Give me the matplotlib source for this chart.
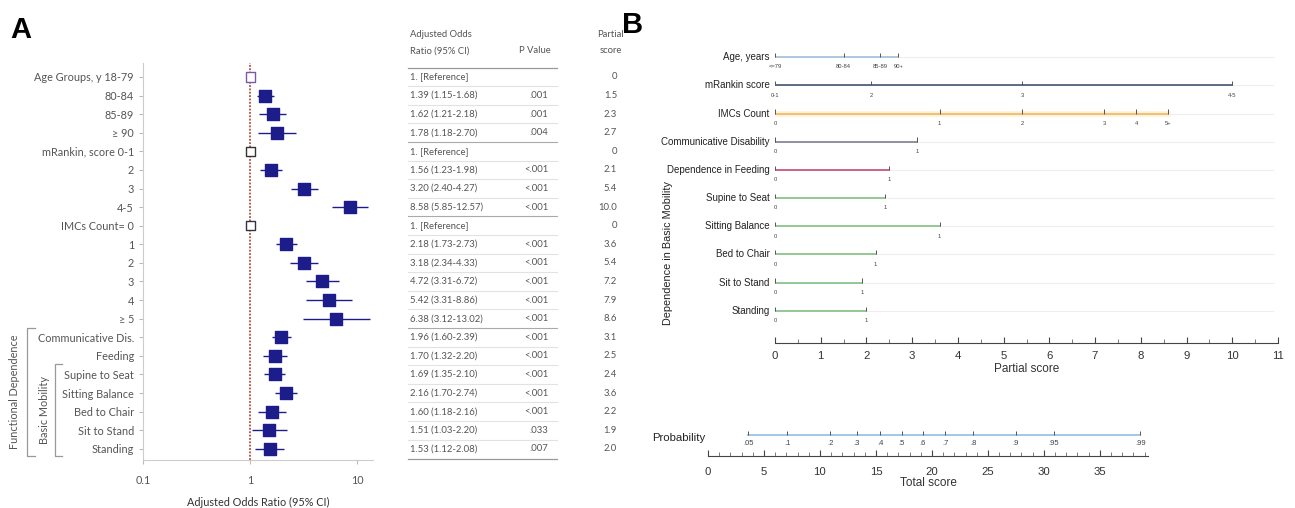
import numpy as np
import matplotlib
matplotlib.use("Agg")
import matplotlib.pyplot as plt
from matplotlib.ticker import FixedLocator, MultipleLocator, NullFormatter

# ---- panel A data ----
row_labels = ["Age Groups, y 18-79", "80-84", "85-89", "\u2265 90",
              "mRankin, score 0-1", "2", "3", "4-5",
              "IMCs Count= 0", "1", "2", "3", "4", "\u2265 5",
              "Communicative Dis.", "Feeding", "Supine to Seat", "Sitting Balance",
              "Bed to Chair", "Sit to Stand", "Standing"]
odds = [1, 1.39, 1.62, 1.78, 1, 1.56, 3.20, 8.58, 1, 2.18, 3.18, 4.72, 5.42, 6.38,
        1.96, 1.70, 1.69, 2.16, 1.60, 1.51, 1.53]
ci_low = [np.nan, 1.15, 1.21, 1.18, np.nan, 1.23, 2.40, 5.85, np.nan, 1.73, 2.34, 3.31,
          3.31, 3.12, 1.60, 1.32, 1.35, 1.70, 1.18, 1.03, 1.12]
ci_high = [np.nan, 1.68, 2.18, 2.70, np.nan, 1.98, 4.27, 12.57, np.nan, 2.73, 4.33, 6.72,
           8.86, 13.02, 2.39, 2.20, 2.10, 2.74, 2.16, 2.20, 2.08]
or_text = ["1. [Reference]", "1.39 (1.15-1.68)", "1.62 (1.21-2.18)", "1.78 (1.18-2.70)",
           "1. [Reference]", "1.56 (1.23-1.98)", "3.20 (2.40-4.27)", "8.58 (5.85-12.57)",
           "1. [Reference]", "2.18 (1.73-2.73)", "3.18 (2.34-4.33)", "4.72 (3.31-6.72)",
           "5.42 (3.31-8.86)", "6.38 (3.12-13.02)", "1.96 (1.60-2.39)", "1.70 (1.32-2.20)",
           "1.69 (1.35-2.10)", "2.16 (1.70-2.74)", "1.60 (1.18-2.16)", "1.51 (1.03-2.20)",
           "1.53 (1.12-2.08)"]
p_text = ["", ".001", ".001", ".004", "", "<.001", "<.001", "<.001", "", "<.001", "<.001",
          "<.001", "<.001", "<.001", "<.001", "<.001", "<.001", "<.001", "<.001", ".033", ".007"]
partial_text = ["0", "1.5", "2.3", "2.7", "0", "2.1", "5.4", "10.0", "0", "3.6", "5.4", "7.2",
                "7.9", "8.6", "3.1", "2.5", "2.4", "3.6", "2.2", "1.9", "2.0"]
group_ends = [3, 7, 13]

# ---- panel B data ----
nomo_names = ["Age, years", "mRankin score", "IMCs Count", "Communicative Disability",
              "Dependence in Feeding", "Supine to Seat", "Sitting Balance", "Bed to Chair",
              "Sit to Stand", "Standing"]
nomo_points = [[0, 1.5, 2.3, 2.7], [0, 2.1, 5.4, 10.0], [0, 3.6, 5.4, 7.2, 7.9, 8.6],
               [0, 3.1], [0, 2.5], [0, 2.4], [0, 3.6], [0, 2.2], [0, 1.9], [0, 2.0]]
nomo_ticks = [["<=79", "80-84", "85-89", "90+"], ["0-1", "2", "3", "4-5"],
              ["0", "1", "2", "3", "4", "5+"], ["0", "1"], ["0", "1"], ["0", "1"],
              ["0", "1"], ["0", "1"], ["0", "1"], ["0", "1"]]
nomo_colors = ["#a9c4dd", "#52607a", "#f2bc6c", "#8e8699", "#c8587a",
               "#8cc48c", "#8cc48c", "#8cc48c", "#8cc48c", "#8cc48c"]
prob_labels = [".05", ".1", ".2", ".3", ".4", ".5", ".6", ".7", ".8", ".9", ".95", ".99"]
prob_score = [3.6, 7.1, 10.9, 13.3, 15.4, 17.3, 19.2, 21.2, 23.7, 27.5, 30.9, 38.6]

W, H = 1295, 508
fig = plt.figure(figsize=(W / 100, H / 100), dpi=100)


def box(l, t, r, b):
    return [l / W, 1 - b / H, (r - l) / W, (b - t) / H]


navy = "#1c1c8a"
gray = "#555555"
fontA = ["Lato", "DejaVu Sans"]
fontB = ["Liberation Sans", "DejaVu Sans"]

fig.text(10 / W, 1 - 30 / H, "A", fontsize=21, fontweight="bold", family=fontB, va="center")
fig.text(622 / W, 1 - 25 / H, "B", fontsize=21, fontweight="bold", family=fontB, va="center")

# ---- forest plot ----
ax = fig.add_axes(box(143, 63, 373, 460))
y = np.arange(len(row_labels))
odds_a = np.array(odds)
lo = np.array(ci_low)
hi = np.array(ci_high)
ref = np.isnan(lo)
ax.set_xscale("log")
ax.set_xlim(0.1, 14)
ax.set_ylim(20.6, -0.75)
ax.axvline(1, color="#a8301e", ls=(0, (1.2, 1.0)), lw=1.1, zorder=1)
ax.hlines(y[~ref], lo[~ref], hi[~ref], color=navy, lw=1.0, zorder=2)
ax.scatter(odds_a[~ref], y[~ref], marker="s", s=70, color=navy, zorder=3)
ax.scatter(odds_a[ref], y[ref], marker="s", s=45, facecolor="white",
           edgecolor=["#7a5aa8", "#333333", "#333344"], lw=1.0, zorder=3)
ax.set_yticks(y)
ax.set_yticklabels(row_labels, family=fontA)
ax.xaxis.set_major_locator(FixedLocator([0.1, 1, 10]))
ax.xaxis.set_minor_formatter(NullFormatter())
ax.xaxis.set_minor_locator(FixedLocator([]))
ax.set_xticklabels(["0.1", "1", "10"], family=fontA)
ax.tick_params(axis="both", length=3, color="#bbbbbb", labelsize=7.8, labelcolor=gray)
ax.tick_params(axis="x", pad=8)
for s in ["top", "right"]:
    ax.spines[s].set_visible(False)
for s in ["left", "bottom"]:
    ax.spines[s].set_color("#cccccc")
ax.set_xlabel("Adjusted Odds Ratio (95% CI)", fontsize=7.8, color="#333333",
              family=fontA, labelpad=8)

tr = ax.get_yaxis_transform()
bk = dict(color="#999999", lw=0.9, transform=tr, clip_on=False)
ax.plot([-0.47, -0.504, -0.504, -0.47], [13.5, 13.5, 20.4, 20.4], **bk)
ax.plot([-0.352, -0.383, -0.383, -0.352], [15.45, 15.45, 20.4, 20.4], **bk)
ax.text(-0.557, 16.95, "Functional Dependence", rotation=90, transform=tr, ha="center",
        va="center", fontsize=7.8, color=gray, family=fontA)
ax.text(-0.428, 17.9, "Basic Mobility", rotation=90, transform=tr, ha="center",
        va="center", fontsize=7.8, color=gray, family=fontA)

# ---- table ----
tb = fig.add_axes(box(400, 63, 625, 460))
tb.set_xlim(0, 1)
tb.set_ylim(20.6, -0.75)
tb.axis("off")
txt = dict(fontsize=6.8, color=gray, family=fontA, va="center")
tb.text(0.044, -2.3, "Adjusted Odds", ha="left", **txt)
tb.text(0.044, -1.4, "Ratio (95% CI)", ha="left", **txt)
tb.text(0.60, -1.4, "P Value", ha="center", **txt)
tb.text(0.935, -2.3, "Partial", ha="center", **txt)
tb.text(0.935, -1.4, "score", ha="center", **txt)
for i in y:
    tb.text(0.044, i, or_text[i], ha="left", **txt)
    tb.text(0.66, i, p_text[i], ha="right", **txt)
    tb.text(0.965, i, partial_text[i], ha="right", **txt)
for i in y[:-1]:
    c = "#aaaaaa" if i in group_ends else "#e2e2e2"
    tb.plot([0.036, 0.698], [i + 0.5, i + 0.5], color=c, lw=0.8)
tb.plot([0.036, 0.698], [-0.5, -0.5], color="#999999", lw=0.9)
tb.plot([0.036, 0.698], [20.55, 20.55], color="#999999", lw=0.9, clip_on=False)

# ---- nomogram ----
nb = fig.add_axes(box(775, 45, 1278, 343))
nb.set_xlim(0, 11)
nb.set_ylim(10.14, -0.43)
for i, name in enumerate(nomo_names):
    pts = nomo_points[i]
    nb.plot([0, 10.9], [i, i], color="#eeeeee", lw=0.8, zorder=0)
    if i == 2:
        nb.plot([pts[0], pts[-1]], [i, i], color="#fdf1d8", lw=4, zorder=1)
    nb.plot([pts[0], pts[-1]], [i, i], color=nomo_colors[i], lw=1.3, zorder=2)
    nb.vlines(pts, i, i - 0.15, color="#555555", lw=0.7, zorder=3)
    for p, lab in zip(pts, nomo_ticks[i]):
        nb.text(p, i + 0.35, lab, fontsize=4.2, ha="center", va="center",
                color="#444444", family=fontB)
    nb.text(-0.12, i, name, fontsize=7, ha="right", va="center", color="#222222",
            family=fontB)
ntr = nb.get_yaxis_transform()
nb.text(-2.35 / 11, 6.95, "Dependence in Basic Mobility", rotation=90, transform=ntr,
        fontsize=7.8, ha="center", va="center", color="#222222", family=fontB)
for s in ["top", "right", "left"]:
    nb.spines[s].set_visible(False)
nb.spines["bottom"].set_color("#444444")
nb.set_yticks([])
nb.xaxis.set_major_locator(MultipleLocator(1))
nb.xaxis.set_minor_locator(MultipleLocator(0.5))
nb.tick_params(axis="x", which="major", direction="in", length=4, color="#444444",
               labelsize=8.2, labelcolor="#333333", pad=6)
nb.tick_params(axis="x", which="minor", direction="in", length=3, color="#666666")
for lab in nb.get_xticklabels():
    lab.set_family(fontB)
nb.set_xlabel("Partial score", fontsize=8.5, color="#333333", family=fontB, labelpad=1)

# ---- total score / probability ----
pb = fig.add_axes(box(708, 425, 1148, 456))
pb.set_xlim(0, 39.3)
pb.set_ylim(0, 1)
prob_y = 0.68
pb.plot([prob_score[0], prob_score[-1]], [prob_y, prob_y], color="#9dc3e6", lw=1.3)
pb.vlines(prob_score, prob_y, prob_y + 0.13, color="#555555", lw=0.7)
for p, lab in zip(prob_score, prob_labels):
    pb.text(p, 0.40, lab, fontsize=5.5, ha="center", va="center", color="#444444",
            family=fontB)
pb.text(-5, 0.58, "Probability", fontsize=8.2, ha="left", va="center", color="#222222",
        family=fontB)
for s in ["top", "right", "left"]:
    pb.spines[s].set_visible(False)
pb.spines["bottom"].set_color("#444444")
pb.set_yticks([])
pb.xaxis.set_major_locator(MultipleLocator(5))
pb.xaxis.set_minor_locator(MultipleLocator(1))
pb.tick_params(axis="x", which="major", direction="in", length=4, color="#444444",
               labelsize=8.2, labelcolor="#333333", pad=8)
pb.tick_params(axis="x", which="minor", direction="in", length=3, color="#666666")
for lab in pb.get_xticklabels():
    lab.set_family(fontB)
pb.set_xlabel("Total score", fontsize=8.5, color="#333333", family=fontB, labelpad=0)

fig.savefig("out.png", dpi=100)
